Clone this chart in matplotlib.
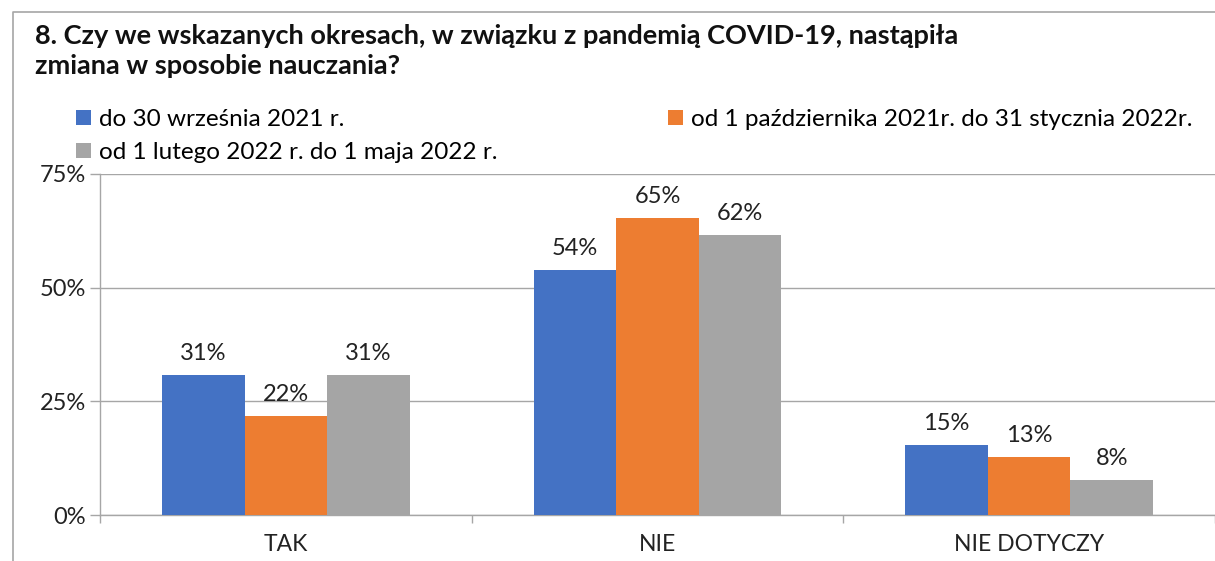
import numpy as np
import matplotlib
matplotlib.use("Agg")
import matplotlib.pyplot as plt
from matplotlib.lines import Line2D

plt.rcParams['font.family'] = ['Lato', 'DejaVu Sans']

categories = ["TAK", "NIE", "NIE DOTYCZY"]
series_names = ["do 30 września 2021 r.",
                "od 1 października 2021r. do 31 stycznia 2022r.",
                "od 1 lutego 2022 r. do 1 maja 2022 r."]
s1 = [30.8, 53.8, 15.4]
s2 = [21.8, 65.4, 12.8]
s3 = [30.8, 61.5, 7.7]
colors = ["#4472C4", "#ED7D31", "#A5A5A5"]
title = "8. Czy we wskazanych okresach, w związku z pandemią COVID-19, nastąpiła\nzmiana w sposobie nauczania?"

fig = plt.figure(figsize=(12.15, 5.61), dpi=100)
W, H = 1215, 561
ax = fig.add_axes([100 / W, 46 / H, 1115 / W, 341 / H])

# ramka wykresu (widoczna tylko lewa i górna krawędź)
fig.lines.append(Line2D([13 / W, 13 / W, 1.0], [0.0, 1 - 12 / H, 1 - 12 / H],
                        transform=fig.transFigure, color="#a6a6a6", linewidth=1.2))

x = np.arange(len(categories))
w = 2 / 9
for i, (vals, name) in enumerate(zip([s1, s2, s3], series_names)):
    bars = ax.bar(x + (i - 1) * w, vals, width=w, color=colors[i], label=name, zorder=3)
    for b, v in zip(bars, vals):
        ax.annotate(f"{v:.0f}%", (b.get_x() + b.get_width() / 2, v),
                    xytext=(0, 8), textcoords="offset points",
                    ha="center", va="bottom", fontsize=17, color="#222222")

ax.set_xlim(-0.5, 2.5)
ax.set_ylim(0, 75)
ax.set_yticks([0, 25, 50, 75])
ax.set_yticklabels(["0%", "25%", "50%", "75%"], fontsize=17, color="#222222")
ax.set_xticks(x)
ax.set_xticklabels(categories, fontsize=16.5, color="#222222")
ax.set_xticks([-0.5, 0.5, 1.5, 2.5], minor=True)
ax.tick_params(axis="x", which="major", length=0, pad=14)
ax.tick_params(axis="x", which="minor", length=6, color="#a6a6a6", width=1)
ax.tick_params(axis="y", length=7, color="#a6a6a6", width=1, pad=3)
ax.yaxis.grid(True, color="#a6a6a6", linewidth=1, zorder=0)
for s in ["top", "right"]:
    ax.spines[s].set_visible(False)
for s in ["left", "bottom"]:
    ax.spines[s].set_color("#a6a6a6")
    ax.spines[s].set_linewidth(1)

fig.text(35 / W, 1 - 24 / H, title, fontsize=19.5, fontweight="bold",
         va="top", ha="left", linespacing=1.28, color="#111111")

handles, labels = ax.get_legend_handles_labels()
leg_pos = [(76, 109), (668, 109), (76, 142)]
for h, l, (lx, ly) in zip(handles, labels, leg_pos):
    fig.legend([h], [l], loc="upper left", bbox_to_anchor=(lx / W, 1 - ly / H),
               frameon=False, fontsize=17.5, handlelength=0.6, handleheight=0.6,
               handletextpad=0.35, borderpad=0, borderaxespad=0)

fig.savefig("out.png", dpi=100)
